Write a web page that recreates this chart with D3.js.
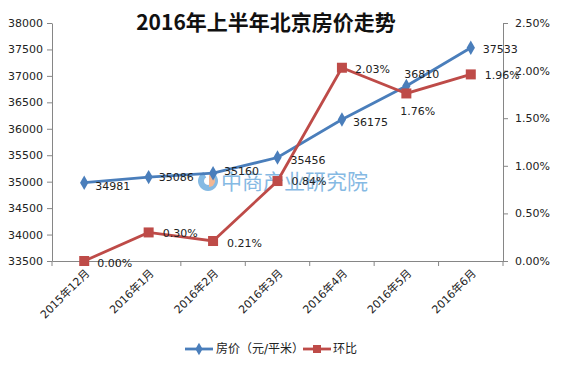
<!DOCTYPE html>
<html><head><meta charset="utf-8">
<script src="https://cdn.jsdelivr.net/npm/d3@7"></script>
<style>body{margin:0;background:#fff}svg{display:block}text{font-family:"DejaVu Sans","Noto Sans CJK SC",sans-serif}</style>
</head><body><svg id="c" width="566" height="366"></svg>
<script>
const categories = ["2015年12月","2016年1月","2016年2月","2016年3月","2016年4月","2016年5月","2016年6月"];
const price = [34981,35086,35160,35456,36175,36810,37533];
const ratio = [0.0000,0.0030,0.0021,0.0084,0.0203,0.0176,0.0196];
const leftTicks = [33500,34000,34500,35000,35500,36000,36500,37000,37500,38000];
const rightTicks = [0,0.005,0.01,0.015,0.02,0.025];
const seriesNames = ["房价（元/平米）","环比"];
const title = "2016年上半年北京房价走势";

const svg = d3.select("#c");
const L=52,R=503,T=23,B=261;
const blue="#4A7EBB", red="#BE4B48", axisC="#868686";
const x = d3.scaleBand().domain(categories).range([L,R]);
const yL = d3.scaleLinear().domain([33500,38000]).range([B,T]);
const yR = d3.scaleLinear().domain([0,0.025]).range([B,T]);
const cx = d => x(d)+x.bandwidth()/2;

// axes
const gl = svg.append("g").attr("transform",`translate(${L},0)`).call(d3.axisLeft(yL).tickValues(leftTicks).tickFormat(d3.format("d")).tickSize(5).tickSizeOuter(0));
const gr = svg.append("g").attr("transform",`translate(${R},0)`).call(d3.axisRight(yR).tickValues(rightTicks).tickFormat(d3.format(".2%")).tickSize(5).tickSizeOuter(0));
const gx = svg.append("g").attr("transform",`translate(0,${B})`).call(d3.axisBottom(x).tickSize(0).tickSizeOuter(0));
[gl,gr,gx].forEach(g=>{g.selectAll("path,line").attr("stroke",axisC);g.selectAll("text").attr("fill","#222").style("font-size","11px");});
gl.selectAll("text").attr("x",-9);
gr.selectAll("text").attr("x",12);
// x ticks at band boundaries
const bounds = categories.map(c=>x(c)).concat([R]);
gx.selectAll(".bt").data(bounds).join("line").attr("x1",d=>d).attr("x2",d=>d).attr("y1",0).attr("y2",5).attr("stroke",axisC);
gx.selectAll(".tick text").attr("text-anchor","end").attr("dy",0).attr("y",0)
  .attr("transform","translate(6,13) rotate(-45)");

// watermark
const wm = svg.append("g").attr("opacity",0.75);
wm.append("path").attr("d",d3.arc()({innerRadius:4,outerRadius:10,startAngle:Math.PI*0.15,endAngle:Math.PI*1.85})).attr("transform","translate(208,181)").attr("fill","#5DA3DA");
wm.append("path").attr("d",d3.arc()({innerRadius:0,outerRadius:6,startAngle:0,endAngle:Math.PI})).attr("transform","translate(209,181)").attr("fill","#F0A070");
wm.append("text").attr("x",221).attr("y",189).text("中商产业研究院").attr("fill","#5DA3DA").style("font-size","21px").style("font-family","Noto Sans CJK SC");

// lines
svg.append("path").datum(price).attr("fill","none").attr("stroke",blue).attr("stroke-width",2.8)
  .attr("d",d3.line().x((d,i)=>cx(categories[i])).y(d=>yL(d)));
svg.append("path").datum(ratio).attr("fill","none").attr("stroke",red).attr("stroke-width",2.8)
  .attr("d",d3.line().x((d,i)=>cx(categories[i])).y(d=>yR(d)));
// markers
svg.selectAll(".dm").data(price).join("path").attr("d",d3.symbol(d3.symbolDiamond,60)())
  .attr("transform",(d,i)=>`translate(${cx(categories[i])},${yL(d)})`).attr("fill",blue);
svg.selectAll(".sq").data(ratio).join("rect").attr("width",10).attr("height",10)
  .attr("x",(d,i)=>cx(categories[i])-5).attr("y",d=>yR(d)-5).attr("fill",red);

// labels
const pOff = [[11,7],[10,4],[11,2],[13,6],[11,6],[-2,-8],[12,5]];
svg.selectAll(".pl").data(price).join("text").attr("x",(d,i)=>cx(categories[i])+pOff[i][0]).attr("y",(d,i)=>yL(d)+pOff[i][1])
  .text(d=>d).attr("fill","#222").style("font-size","11px");
const rOff = [[13,6],[14,5],[14,6],[14,4],[13,5],[-6,22],[14,5]];
svg.selectAll(".rl").data(ratio).join("text").attr("x",(d,i)=>cx(categories[i])+rOff[i][0]).attr("y",(d,i)=>yR(d)+rOff[i][1])
  .text(d=>d3.format(".2%")(d)).attr("fill","#222").style("font-size","11px");

// title
svg.append("text").attr("x",266).attr("y",30).attr("text-anchor","middle").text(title)
  .style("font-size","21px").style("font-weight","bold").style("font-family","Noto Sans CJK SC").attr("fill","#111");

// legend
const lg = svg.append("g");
lg.append("line").attr("x1",185).attr("x2",213).attr("y1",349).attr("y2",349).attr("stroke",blue).attr("stroke-width",2.8);
lg.append("path").attr("d",d3.symbol(d3.symbolDiamond,45)()).attr("transform","translate(199,349)").attr("fill",blue);
lg.append("text").attr("x",216).attr("y",353).text(seriesNames[0]).style("font-size","12px").attr("fill","#222");
lg.append("line").attr("x1",303).attr("x2",331).attr("y1",349).attr("y2",349).attr("stroke",red).attr("stroke-width",2.8);
lg.append("rect").attr("x",313).attr("y",345).attr("width",8).attr("height",8).attr("fill",red);
lg.append("text").attr("x",333).attr("y",353).text(seriesNames[1]).style("font-size","12px").attr("fill","#222");
</script></body></html>
